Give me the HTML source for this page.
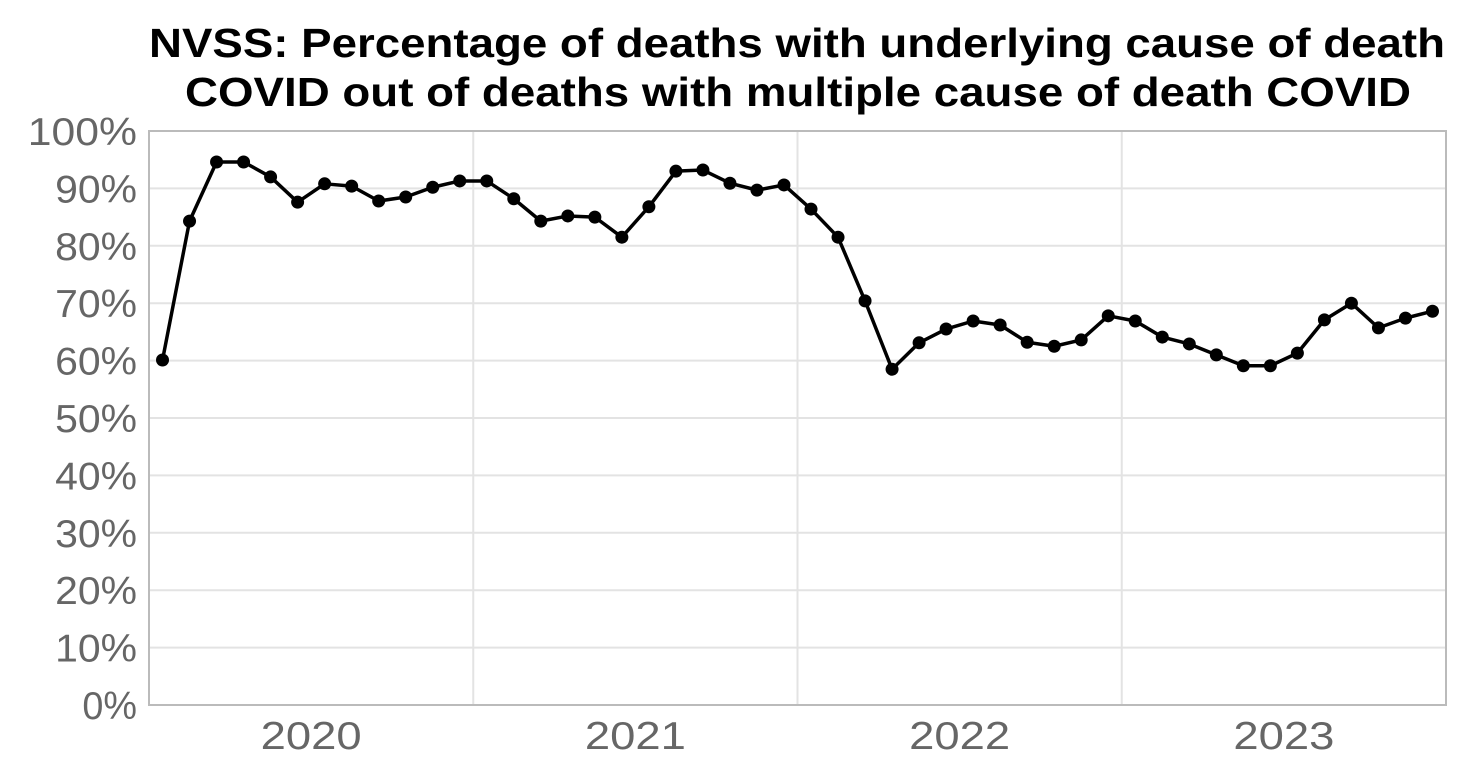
<!DOCTYPE html>
<html><head><meta charset="utf-8"><style>
html,body{margin:0;padding:0;background:#fff;}
svg{display:block;font-family:"Liberation Sans",Arial,sans-serif;}
</style></head><body>
<svg id="chart" width="1470" height="780" viewBox="0 0 1470 780">
<text x="797" y="57" text-anchor="middle" font-size="41" font-weight="bold" fill="#000" textLength="1296" lengthAdjust="spacingAndGlyphs">NVSS: Percentage of deaths with underlying cause of death</text>
<text x="798" y="106" text-anchor="middle" font-size="41" font-weight="bold" fill="#000" textLength="1226" lengthAdjust="spacingAndGlyphs">COVID out of deaths with multiple cause of death COVID</text>
<g id="grid"></g>
<g id="yaxis"></g>
<g id="xaxis"></g>
<g id="series"></g>
<rect x="149" y="131" width="1297" height="574" fill="none" stroke="#bbb" stroke-width="2"/>
</svg>
<script>
const yTicks=[0,10,20,30,40,50,60,70,80,90,100];
const years=["2020","2021","2022","2023"];
const values=[60.1,84.3,94.6,94.6,92.0,87.6,90.8,90.4,87.8,88.5,90.2,91.3,
91.3,88.2,84.3,85.2,85.0,81.5,86.8,93.0,93.2,90.9,89.7,90.6,
86.4,81.5,70.4,58.5,63.1,65.5,66.9,66.2,63.2,62.5,63.6,67.8,
66.9,64.1,62.9,61.0,59.1,59.1,61.3,67.1,70.0,65.7,67.4,68.6];
const NS="http://www.w3.org/2000/svg";
const X0=149,X1=1446,Y0=705,Y1=131;
const monthW=(X1-X0)/48;
const sx=i=>X0+monthW*(i+0.5);
const sy=v=>Y0-(v/100)*(Y0-Y1);
function mk(tag,attrs,parent){const e=document.createElementNS(NS,tag);for(const k in attrs)e.setAttribute(k,attrs[k]);parent.appendChild(e);return e;}
const grid=document.getElementById('grid'),ya=document.getElementById('yaxis'),xa=document.getElementById('xaxis'),ser=document.getElementById('series');
yTicks.forEach(v=>{const l=mk('line',{x1:X0,x2:X1,y1:sy(v),y2:sy(v),stroke:'#e3e3e3','stroke-width':2},grid);


const s=String(v)+'%';
const t=mk('text',{x:137,y:sy(v)+14,'text-anchor':'end','font-size':39,fill:'#666',textLength:s.length*27.3,lengthAdjust:'spacingAndGlyphs'},ya);


t.textContent=s;});
years.forEach((y,k)=>{const bx=X0+monthW*12*(k+1);
if(k<years.length-1){const l=mk('line',{x1:bx,x2:bx,y1:Y1,y2:Y0,stroke:'#e3e3e3','stroke-width':2},grid);

}
const t=mk('text',{x:X0+monthW*12*(k+0.5),y:749,'text-anchor':'middle','font-size':39,fill:'#666',textLength:101,lengthAdjust:'spacingAndGlyphs'},xa);


t.textContent=y;});
const pl=mk('polyline',{points:values.map((v,i)=>sx(i)+','+sy(v)).join(' '),fill:'none',stroke:'#000','stroke-width':3.5,'stroke-linejoin':'round'},ser);


values.forEach((v,i)=>{const c=mk('circle',{cx:sx(i),cy:sy(v),r:6.5,fill:'#000'},ser);

});
</script>
</body></html>
